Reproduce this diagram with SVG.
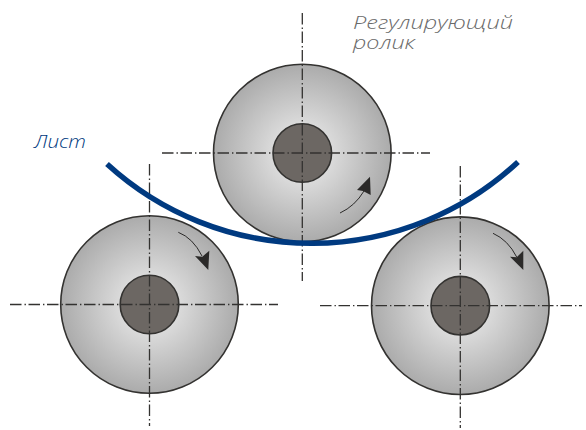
<svg xmlns="http://www.w3.org/2000/svg" width="586" height="430" viewBox="0 0 586 430">
<style>
.roller{fill:url(#g);stroke:#333230;stroke-width:1.6}
.hub{fill:#6c6763;stroke:#333230;stroke-width:1.6}
.axis{stroke:#333230;stroke-width:1.3;stroke-dasharray:11.5 3 1.4 2.6;fill:none}
.sweep{fill:none;stroke:#2b2a29;stroke-width:1}
.head{fill:#2b2a29}
.t{font-family:"Open Sans","Noto Sans",sans-serif;font-style:italic;font-weight:300;font-size:19px}
</style>
<defs>
<radialGradient id="g"><stop offset="0" stop-color="#f2f2f2"/><stop offset="1" stop-color="#ababab"/></radialGradient>
</defs>
<rect width="586" height="430" fill="#fff"/>
<g id="roller-top"><circle class="roller" cx="302.3" cy="153" r="88.8"/><circle class="hub" cx="302.3" cy="153" r="29.3"/></g>
<g id="roller-left"><circle class="roller" cx="149.5" cy="304.5" r="88.8"/><circle class="hub" cx="149.5" cy="304.5" r="29.3"/></g>
<g id="roller-right"><circle class="roller" cx="460.3" cy="305.7" r="88.8"/><circle class="hub" cx="460.3" cy="305.7" r="29.3"/></g>
<g id="connectors">
<path class="axis" d="M302.3 13V281M162 153H430"/>
<path class="axis" d="M149.5 164V426M10 304.5H278"/>
<path class="axis" d="M460.3 166V428M320 305.7H582"/>
<path class="sweep" d="M340 213Q355 206 364 191"/>
<path class="head" d="M370 176.7L357 190L363 191L370.7 195Z"/>
<path class="sweep" d="M178.3 232.3Q193 238 202 256"/>
<path class="head" d="M208.3 270L195 256L202.3 256.7L209.3 250.7Z"/>
<path class="sweep" d="M493 233.3Q508 240 516.7 257"/>
<path class="head" d="M523.3 270L510 256.7L516.7 257.3L523.3 250.7Z"/>
</g>
<g id="sheet"><path d="M107 164A303 303 0 0 0 518 162" fill="none" stroke="#003a80" stroke-width="5.5"/></g>
<g id="label-regulator" class="t" fill="#6a6a6a"><text x="353" y="29" textLength="160" lengthAdjust="spacingAndGlyphs">Регулирующий</text><text x="353" y="49" textLength="62" lengthAdjust="spacingAndGlyphs">ролик</text></g>
<g id="label-sheet" class="t" fill="#003a80"><text x="34" y="148" textLength="52" lengthAdjust="spacingAndGlyphs">Лист</text></g>
</svg>
